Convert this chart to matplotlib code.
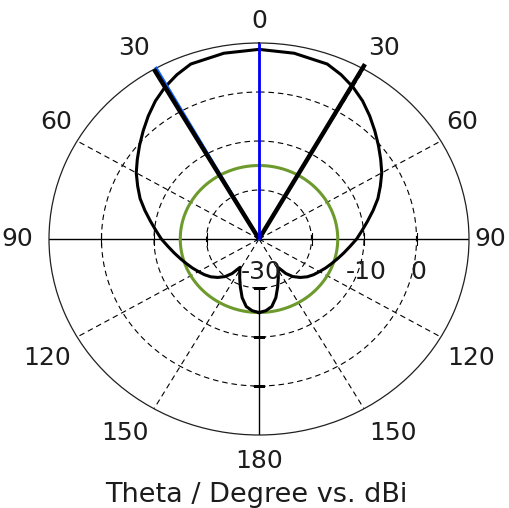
import numpy as np
import matplotlib

matplotlib.use("Agg")
from matplotlib import pyplot as plt
from matplotlib.transforms import offset_copy

plt.rcParams["font.family"] = ["DejaVu Sans"]

theta_deg = [0, 10, 20, 25, 30, 35, 40, 45, 50, 55, 60, 65, 70, 75, 80, 85, 90,
             95, 100, 105, 110, 115, 120, 125, 130, 135, 140, 144, 148, 150,
             155, 160, 165, 170, 175, 180]
gain_dbi = [8.7, 8.5, 8.0, 7.0, 5.8, 4.4, 2.8, 1.2, -0.3, -1.7, -3.0, -4.5,
            -5.9, -7.5, -9.0, -10.3, -11.4, -12.6, -13.6, -14.5, -15.3, -16.0,
            -16.7, -17.3, -18.0, -18.9, -20.0, -21.3, -23.2, -22.7, -21.3,
            -19.6, -17.6, -16.0, -15.3, -15.0]

main_lobe_deg = 0.0
beam_edges_deg = [-30.0, 29.5]
beam_edge_ends = [10.0, 11.0]
side_lobe_level = -15.0

r_min, r_max = -30, 10
grid_circles = [-20, -10, 0]
spoke_deg = [30, 60, 120, 150, -30, -60, -120, -150]
radial_ticks = [-30, -10, 0]
radial_labels = ["-30", "-10", "0"]

angle_labels = ["0", "30", "60", "90", "120", "150", "180", "150", "120", "90", "60", "30"]
# label anchor (theta in deg, r in dB units) -- layout only
angle_label_pos = [(0, 14.4), (31.4, 15.7), (58.3, 15.4), (90, 14.0), (120.9, 17.1),
                   (147.3, 17.1), (180, 15.3), (-147.3, 17.1), (-120.9, 17.1),
                   (-90, 16.1), (-58.3, 15.4), (-31.4, 15.7)]

text_color = "#1c1c1c"
label_size = 18

fig = plt.figure(figsize=(5.09, 5.08), dpi=100)
ax = fig.add_axes([49 / 509, 73 / 508, 420 / 509, 392 / 508], projection="polar")
ax.set_aspect("auto")
ax.set_theta_zero_location("N")
ax.set_theta_direction(-1)
ax.set_rlim(r_min, r_max)
ax.set_xticks([])
ax.set_yticks([])
ax.grid(False)
ax.spines["polar"].set_linewidth(0.9)
ax.spines["polar"].set_color("#202020")

full = np.linspace(0, 2 * np.pi, 721)
for rc in grid_circles:
    ax.plot(full, np.full_like(full, rc), color="black", lw=0.8, dashes=(5, 3.5), zorder=1)
for sd in spoke_deg:
    ax.plot(np.deg2rad([sd, sd]), [r_min, r_max], color="black", lw=0.8,
            dashes=(5, 3.5), zorder=1)

# solid axes
ax.plot(np.deg2rad([90, 90]), [r_min, r_max], color="black", lw=1.0, zorder=2)
ax.plot(np.deg2rad([-90, -90]), [r_min, r_max], color="black", lw=1.0, zorder=2)
ax.plot(np.deg2rad([0, 0]), [r_min, r_max], color="black", lw=1.0, zorder=2)
ax.plot(np.deg2rad([180, 180]), [-20, r_max], color="black", lw=1.0, zorder=2)
for ang, mk in [(90, "|"), (-90, "|"), (180, "_")]:
    ax.plot(np.deg2rad(np.full(len(grid_circles), ang)), grid_circles, ls="none",
            marker=mk, ms=8, mew=0.8, color="black", zorder=2)

# side lobe level circle
ax.plot(full, np.full_like(full, side_lobe_level), color="#6d9a2c", lw=2.2, zorder=3)

# pattern
th = np.array(theta_deg, dtype=float)
g = np.array(gain_dbi, dtype=float)
th_all = np.concatenate([-th[::-1], th[1:]])
g_all = np.concatenate([g[::-1], g[1:]])
ax.plot(np.deg2rad(th_all), g_all, color="black", lw=2.2, zorder=4,
        solid_joinstyle="round")

# beam width lines and main lobe direction
ax.plot(np.deg2rad([beam_edges_deg[0] + 0.7] * 2), [r_min, beam_edge_ends[0]],
        color="#1060ff", lw=2.0, zorder=5, clip_on=False)
for bd, be in zip(beam_edges_deg, beam_edge_ends):
    ax.plot(np.deg2rad([bd, bd]), [r_min, be], color="black", lw=3.2, zorder=6,
            clip_on=False, solid_capstyle="butt")
ax.plot(np.deg2rad([main_lobe_deg] * 2), [r_min, r_max], color="#0000ff", lw=2.0,
        zorder=7, solid_capstyle="butt")

for (a, r), lab in zip(angle_label_pos, angle_labels):
    ax.text(np.deg2rad(a), r, lab, ha="center", va="center", fontsize=label_size,
            color=text_color, clip_on=False)

tr = offset_copy(ax.transData, fig=fig, x=2, y=-33, units="dots")
for r, lab in zip(radial_ticks, radial_labels):
    ax.text(np.pi / 2, r, lab, transform=tr, ha="center", va="center",
            fontsize=label_size, color=text_color, zorder=8)

fig.text(256 / 509, 6 / 508, "Theta / Degree vs. dBi", ha="center", va="baseline",
         fontsize=19.5, color=text_color)

fig.savefig("out.png", dpi=100)
